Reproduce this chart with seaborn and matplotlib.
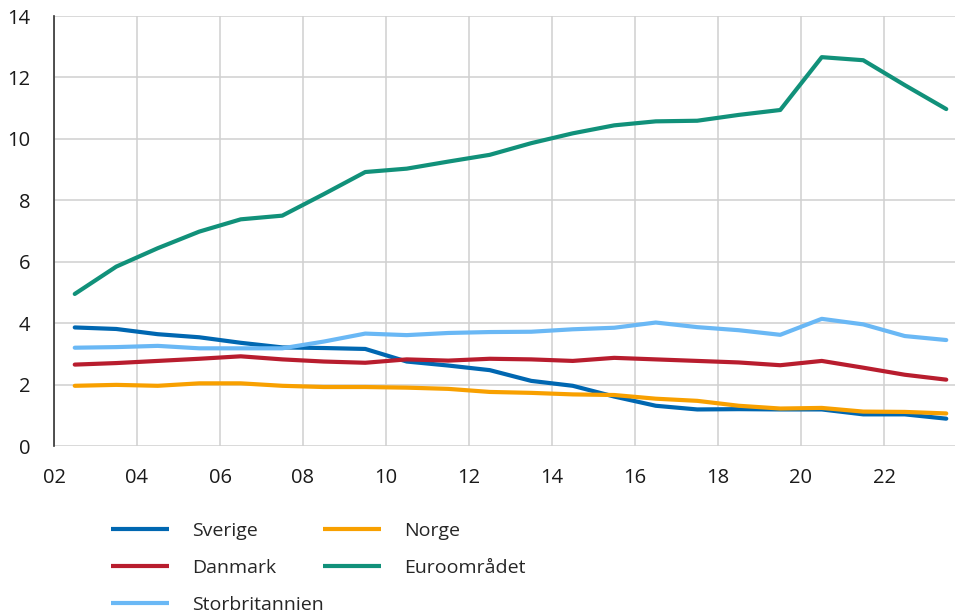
import numpy as np
import pandas as pd
import matplotlib
matplotlib.use("Agg")
import matplotlib.pyplot as plt
import seaborn as sns
from matplotlib.lines import Line2D

# Mid-year observations, 2002-2023
years = [2.5, 3.5, 4.5, 5.5, 6.5, 7.5, 8.5, 9.5, 10.5, 11.5, 12.5,
         13.5, 14.5, 15.5, 16.5, 17.5, 18.5, 19.5, 20.5, 21.5, 22.5, 23.5]

sverige = [3.86, 3.81, 3.64, 3.54, 3.36, 3.21, 3.19, 3.16, 2.75, 2.62, 2.47,
           2.12, 1.96, 1.61, 1.31, 1.19, 1.20, 1.19, 1.19, 1.03, 1.03, 0.89]
norge = [1.96, 1.99, 1.96, 2.04, 2.04, 1.96, 1.92, 1.92, 1.90, 1.86, 1.76,
         1.73, 1.68, 1.66, 1.54, 1.47, 1.31, 1.22, 1.24, 1.12, 1.11, 1.06]
danmark = [2.65, 2.70, 2.77, 2.84, 2.92, 2.82, 2.75, 2.71, 2.82, 2.78, 2.84,
           2.82, 2.77, 2.87, 2.82, 2.77, 2.72, 2.63, 2.77, 2.55, 2.32, 2.16]
euro = [4.95, 5.84, 6.44, 6.98, 7.38, 7.50, 8.20, 8.92, 9.03, 9.26, 9.48,
        9.86, 10.18, 10.44, 10.57, 10.59, 10.78, 10.94, 12.66, 12.56, 11.75, 10.97]
storbritannien = [3.20, 3.22, 3.26, 3.18, 3.18, 3.18, 3.40, 3.66, 3.61, 3.68, 3.71,
                  3.72, 3.80, 3.85, 4.02, 3.87, 3.77, 3.62, 4.14, 3.96, 3.58, 3.45]

x_ticks = [2, 4, 6, 8, 10, 12, 14, 16, 18, 20, 22]
x_tick_labels = ["02", "04", "06", "08", "10", "12", "14", "16", "18", "20", "22"]
y_ticks = [0, 2, 4, 6, 8, 10, 12, 14]

series = {
    "Sverige": sverige,
    "Norge": norge,
    "Danmark": danmark,
    "Euroområdet": euro,
    "Storbritannien": storbritannien,
}
palette = {
    "Sverige": "#0067B1",
    "Norge": "#F8A000",
    "Danmark": "#B81D2E",
    "Euroområdet": "#11917A",
    "Storbritannien": "#6AB8F5",
}

df = pd.concat(
    [pd.DataFrame({"year": years, "value": vals, "series": name})
     for name, vals in series.items()],
    ignore_index=True,
)

sns.set_style("white")
plt.rcParams["font.family"] = ["Open Sans", "DejaVu Sans"]

fig = plt.figure(figsize=(9.55, 6.14), dpi=100)
ax = fig.add_axes([54 / 955, (614 - 446) / 614, 1 - 54 / 955, 430 / 614])

sns.lineplot(data=df, x="year", y="value", hue="series", palette=palette,
             linewidth=3.0, ax=ax, legend=False, sort=False)

ax.set_xlim(2, 2 + 901 / 41.5)
ax.set_ylim(0, 14)
ax.set_xticks(x_ticks)
ax.set_xticklabels(x_tick_labels)
ax.set_yticks(y_ticks)
ax.set_xlabel("")
ax.set_ylabel("")

ax.grid(True, color="#D0D0D0", linewidth=1.1)
ax.set_axisbelow(True)
for side in ["top", "right", "bottom"]:
    ax.spines[side].set_visible(False)
ax.spines["left"].set_color("#333333")
ax.spines["left"].set_linewidth(1.2)

ax.tick_params(axis="y", direction="in", length=6, width=1.2, color="#333333",
               pad=17, labelsize=14.5, labelcolor="#1a1a1a")
ax.tick_params(axis="x", length=0, pad=16, labelsize=14.5, labelcolor="#1a1a1a")

# Legend in two columns below the plot
def make_handles(names):
    return [Line2D([0], [0], color=palette[n], linewidth=3, solid_capstyle="butt")
            for n in names]

col1 = ["Sverige", "Danmark", "Storbritannien"]
col2 = ["Norge", "Euroområdet"]
leg_kw = dict(frameon=False, fontsize=14, handlelength=3.0, handletextpad=1.2,
              labelspacing=0.98, borderpad=0, loc="upper left")
fig.legend(make_handles(col1), col1,
           bbox_to_anchor=(101 / 955, 1 - 512 / 614), **leg_kw)
fig.legend(make_handles(col2), col2,
           bbox_to_anchor=(313 / 955, 1 - 512 / 614), **leg_kw)

fig.savefig("out.png", dpi=100)
